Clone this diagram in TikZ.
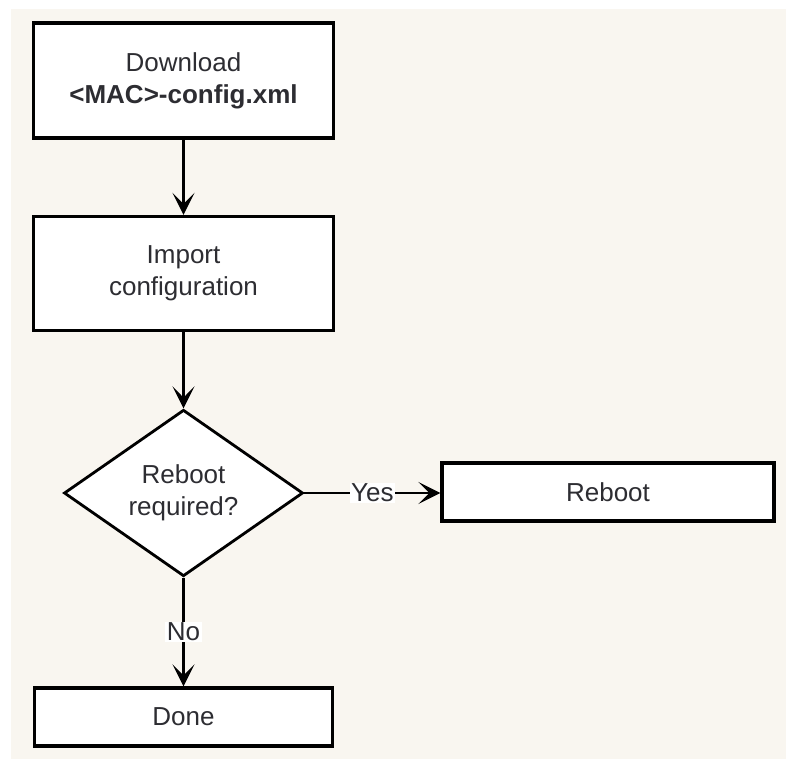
\documentclass[tikz,border=0pt]{standalone}
\usepackage{fontspec}
\setmainfont{Liberation Sans}
\usetikzlibrary{shapes.geometric,arrows.meta}
\definecolor{paper}{RGB}{249,246,240}
\definecolor{ink}{RGB}{45,45,50}
\begin{document}
\begin{tikzpicture}[x = 0.25mm, y = -0.25mm,
	every node/.style = {font = \fontsize{18.5}{23}\selectfont, text = ink},
	stepbox/.style = {draw = black, fill = white, line width = 2.4pt, align = center, inner sep = 0pt},
	choice/.style = {diamond, draw = black, fill = white, line width = 2pt, align = center, inner sep = 0pt, minimum width = 59.75mm, minimum height = 41.25mm},
	flow/.style = {line width = 1.9pt, -{Stealth[length = 5.5mm, width = 5.5mm, inset = 2.8mm]}},
	tag/.style = {fill = white, inner sep = 1pt}]
	\useasboundingbox (0, 0) rectangle (788, 762);
	\fill[white] (0, 0) rectangle (788, 762);
	\fill[paper] (11, 9) rectangle (786, 759);
	\node[stepbox, minimum width = 75mm, minimum height = 28.75mm] (download) at (183.5, 80.5) {Download\\\textbf{<MAC>-config.xml}};
	\node[stepbox, minimum width = 75mm, minimum height = 28.5mm] (import) at (183.5, 273.5) {Import\\configuration};
	\node[choice] (reboot?) at (183.5, 493) {Reboot\\required?};
	\node[stepbox, minimum width = 83mm, minimum height = 14.5mm] (reboot) at (608, 492) {Reboot};
	\node[stepbox, minimum width = 74.5mm, minimum height = 14.5mm] (done) at (183.5, 717) {Done};
	\draw[flow] (download) -- (import);
	\draw[flow] (import) -- (reboot?);
	\draw[flow] (reboot?.east) -- node[tag]{Yes} (reboot.west |- reboot?.east);
	\draw[flow] (reboot?) -- node[tag]{No} (done);
\end{tikzpicture}
\end{document}
